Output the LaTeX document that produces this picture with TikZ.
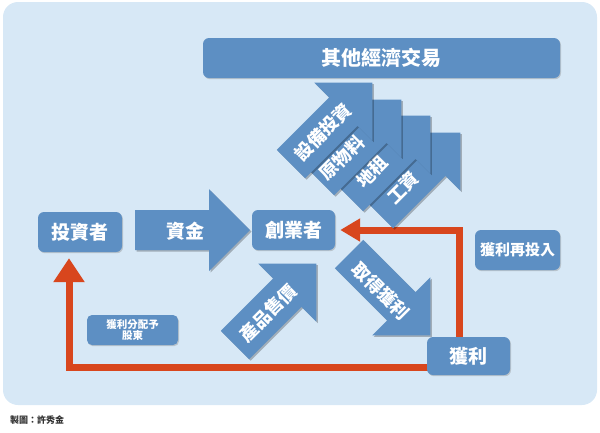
\documentclass[tikz,border=0pt]{standalone}
\usepackage{fontspec}
\setmainfont{Noto Sans CJK TC}
\usetikzlibrary{arrows.meta,shadows}
\pgfdeclarelayer{back}
\pgfdeclarelayer{mid}
\pgfsetlayers{back,mid,main}
\definecolor{bgblue}{HTML}{D7E8F6}
\definecolor{boxblue}{HTML}{5D8FC3}
\definecolor{redflow}{HTML}{D8461D}
\definecolor{capgray}{HTML}{333333}
\newcommand{\fs}[1]{\fontsize{#1}{#1}\selectfont}
\tikzset{
  box/.style={fill=boxblue, rounded corners=6pt, text=white, font=\bfseries\fs{19},
    inner sep=0pt, minimum width=84pt, minimum height=40pt,
    drop shadow={shadow xshift=1pt, shadow yshift=-1.2pt, opacity=0.35}},
  alabel/.style={text=white, font=\bfseries\fs{18}, inner sep=0pt},
  flow/.style={draw=redflow, line width=7pt},
  arrfill/.style={fill=boxblue},
  arrshadow/.style={fill=black, opacity=0.25},
}
% #1 tail, #2 angle, #3 length
\newcommand{\blockarr}[3]{%
  \begin{scope}[shift={(1.5,1.5)}]
    \begin{scope}[shift={#1}, rotate=#2]
      \fill[arrshadow] (0,-20) -- (#3-41,-20) -- (#3-41,-41) -- (#3,0) -- (#3-41,41) -- (#3-41,20) -- (0,20) -- cycle;
    \end{scope}
  \end{scope}
  \begin{scope}[shift={#1}, rotate=#2]
    \fill[arrfill] (0,-20) -- (#3-41,-20) -- (#3-41,-41) -- (#3,0) -- (#3-41,41) -- (#3-41,20) -- (0,20) -- cycle;
  \end{scope}}
\begin{document}
\begin{tikzpicture}[x=1pt,y=-1pt]
\useasboundingbox (0,0) rectangle (600,432);
\begin{pgfonlayer}{back}
\fill[bgblue, rounded corners=15pt] (3,2) rectangle (597,405);
\end{pgfonlayer}

% top bar
\node[box, minimum width=357pt, font=\bfseries\fs{20}] (other) at (381.5,58) {其他經濟交易};

% four stacked diagonal arrows (back to front)
\blockarr{(379,214)}{45}{115}
\node[alabel, rotate=45] (wage) at (403,188) {工資};
\blockarr{(349,197)}{45}{115}
\node[alabel, rotate=45] (rent) at (372,172) {地租};
\blockarr{(320,181)}{45}{115}
\node[alabel, rotate=45] (material) at (342,158) {原物料};
\blockarr{(291,164)}{45}{115}
\node[alabel, rotate=45] (equip) at (323,132) {設備投資};

% fund arrow
\blockarr{(135,230)}{0}{115}
\node[alabel, font=\bfseries\fs{19}] (fund) at (185,231) {資金};

% product price arrow
\blockarr{(235,345)}{45}{115}
\node[alabel, rotate=45] (price) at (268,313) {產品售價};

% obtain profit arrow
\blockarr{(349,254)}{-45}{115}
\node[alabel, rotate=-45] (obtain) at (381,291) {取得獲利};

% main boxes
\node[box] (investor) at (80,232) {投資者};
\node[box, minimum width=83pt] (creator) at (293.5,230) {創業者};
\node[box, minimum width=83pt, minimum height=38pt] (profit) at (468.5,356) {獲利};

% red flows
\begin{pgfonlayer}{mid}
\draw[flow, -{Triangle[length=20pt,width=22pt]}] ([xshift=-9.5pt]profit.center) |- ([xshift=5pt]creator.east);
\draw[flow, -{Triangle[length=24pt,width=30pt]}, shorten >=6pt] ([yshift=-11pt]profit.center) -| ([xshift=-11pt]investor.south);
\end{pgfonlayer}

% side labels
\node[box, minimum width=85pt, minimum height=40pt, font=\bfseries\fs{15}] (reinvest) at (517.5,250) {獲利再投入};
\node[box, minimum width=91pt, minimum height=30pt, font=\bfseries\fs{10.5}, align=center, rounded corners=5pt] (dividend) at (132.5,330) {獲利分配予\\[1pt]股東};

% caption
\node[anchor=west, text=capgray, font=\bfseries\fs{9}, inner sep=0pt] (caption) at (10,420) {製圖：許秀金};
\end{tikzpicture}
\end{document}
